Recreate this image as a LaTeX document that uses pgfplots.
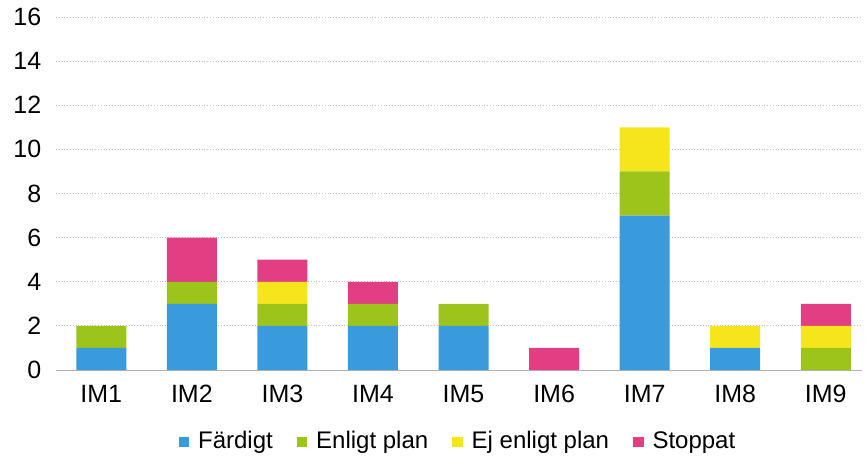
\documentclass[border=0pt]{standalone}
\usepackage{fontspec}
\setmainfont{Liberation Sans}
\usepackage{pgfplots}
\pgfplotsset{compat=1.18}
\definecolor{cF}{HTML}{3A9BDC}
\definecolor{cE}{HTML}{9DC41A}
\definecolor{cEj}{HTML}{F7E51B}
\definecolor{cS}{HTML}{E23E84}
\begin{document}
\begin{tikzpicture}
\fontsize{12.5}{14}\selectfont
\begin{axis}[
  scale only axis,
  width=403pt, height=176.5pt,
  ybar stacked,
  bar width=25pt,
  xmin=-0.5, xmax=8.4,
  ymin=0, ymax=16,
  ytick={0,2,...,16},
  xtick={0,...,8},
  xticklabels={IM1,IM2,IM3,IM4,IM5,IM6,IM7,IM8,IM9},
  ymajorgrids,
  grid style={densely dotted, gray!50, line width=0.4pt},
  axis x line*=bottom,
  axis y line*=left,
  y axis line style={draw=none},
  x axis line style={gray!60, line width=0.5pt},
  major tick length=0pt,
  tick label style={font=\fontsize{12.5}{14}\selectfont},
  /pgf/number format/assume math mode=true,
  yticklabel style={xshift=-3pt},
  xticklabel style={yshift=-3pt, text height=9pt, text depth=0pt},
  legend style={at={(rel axis cs:0.5,0)}, yshift=-36pt, anchor=center, draw=none,
    font=\fontsize{12}{14}\selectfont, column sep=2.5pt,
    /tikz/every even column/.append style={column sep=10pt}},
  legend columns=4,
  legend image code/.code={\fill[#1] (0pt,-2.6pt) rectangle (5.2pt,2.6pt);},
  clip=false,
]
\addplot[fill=cF, draw=none] coordinates {(0,1) (1,3) (2,2) (3,2) (4,2) (5,0) (6,7) (7,1) (8,0)};
\addplot[fill=cE, draw=none] coordinates {(0,1) (1,1) (2,1) (3,1) (4,1) (5,0) (6,2) (7,0) (8,1)};
\addplot[fill=cEj, draw=none] coordinates {(0,0) (1,0) (2,1) (3,0) (4,0) (5,0) (6,2) (7,1) (8,1)};
\addplot[fill=cS, draw=none] coordinates {(0,0) (1,2) (2,1) (3,1) (4,0) (5,1) (6,0) (7,0) (8,1)};
\legend{Färdigt, Enligt plan, Ej enligt plan, Stoppat}
\end{axis}
\pgfresetboundingbox
\path (-28pt,-45pt) rectangle (405pt,185pt);
\end{tikzpicture}
\end{document}
